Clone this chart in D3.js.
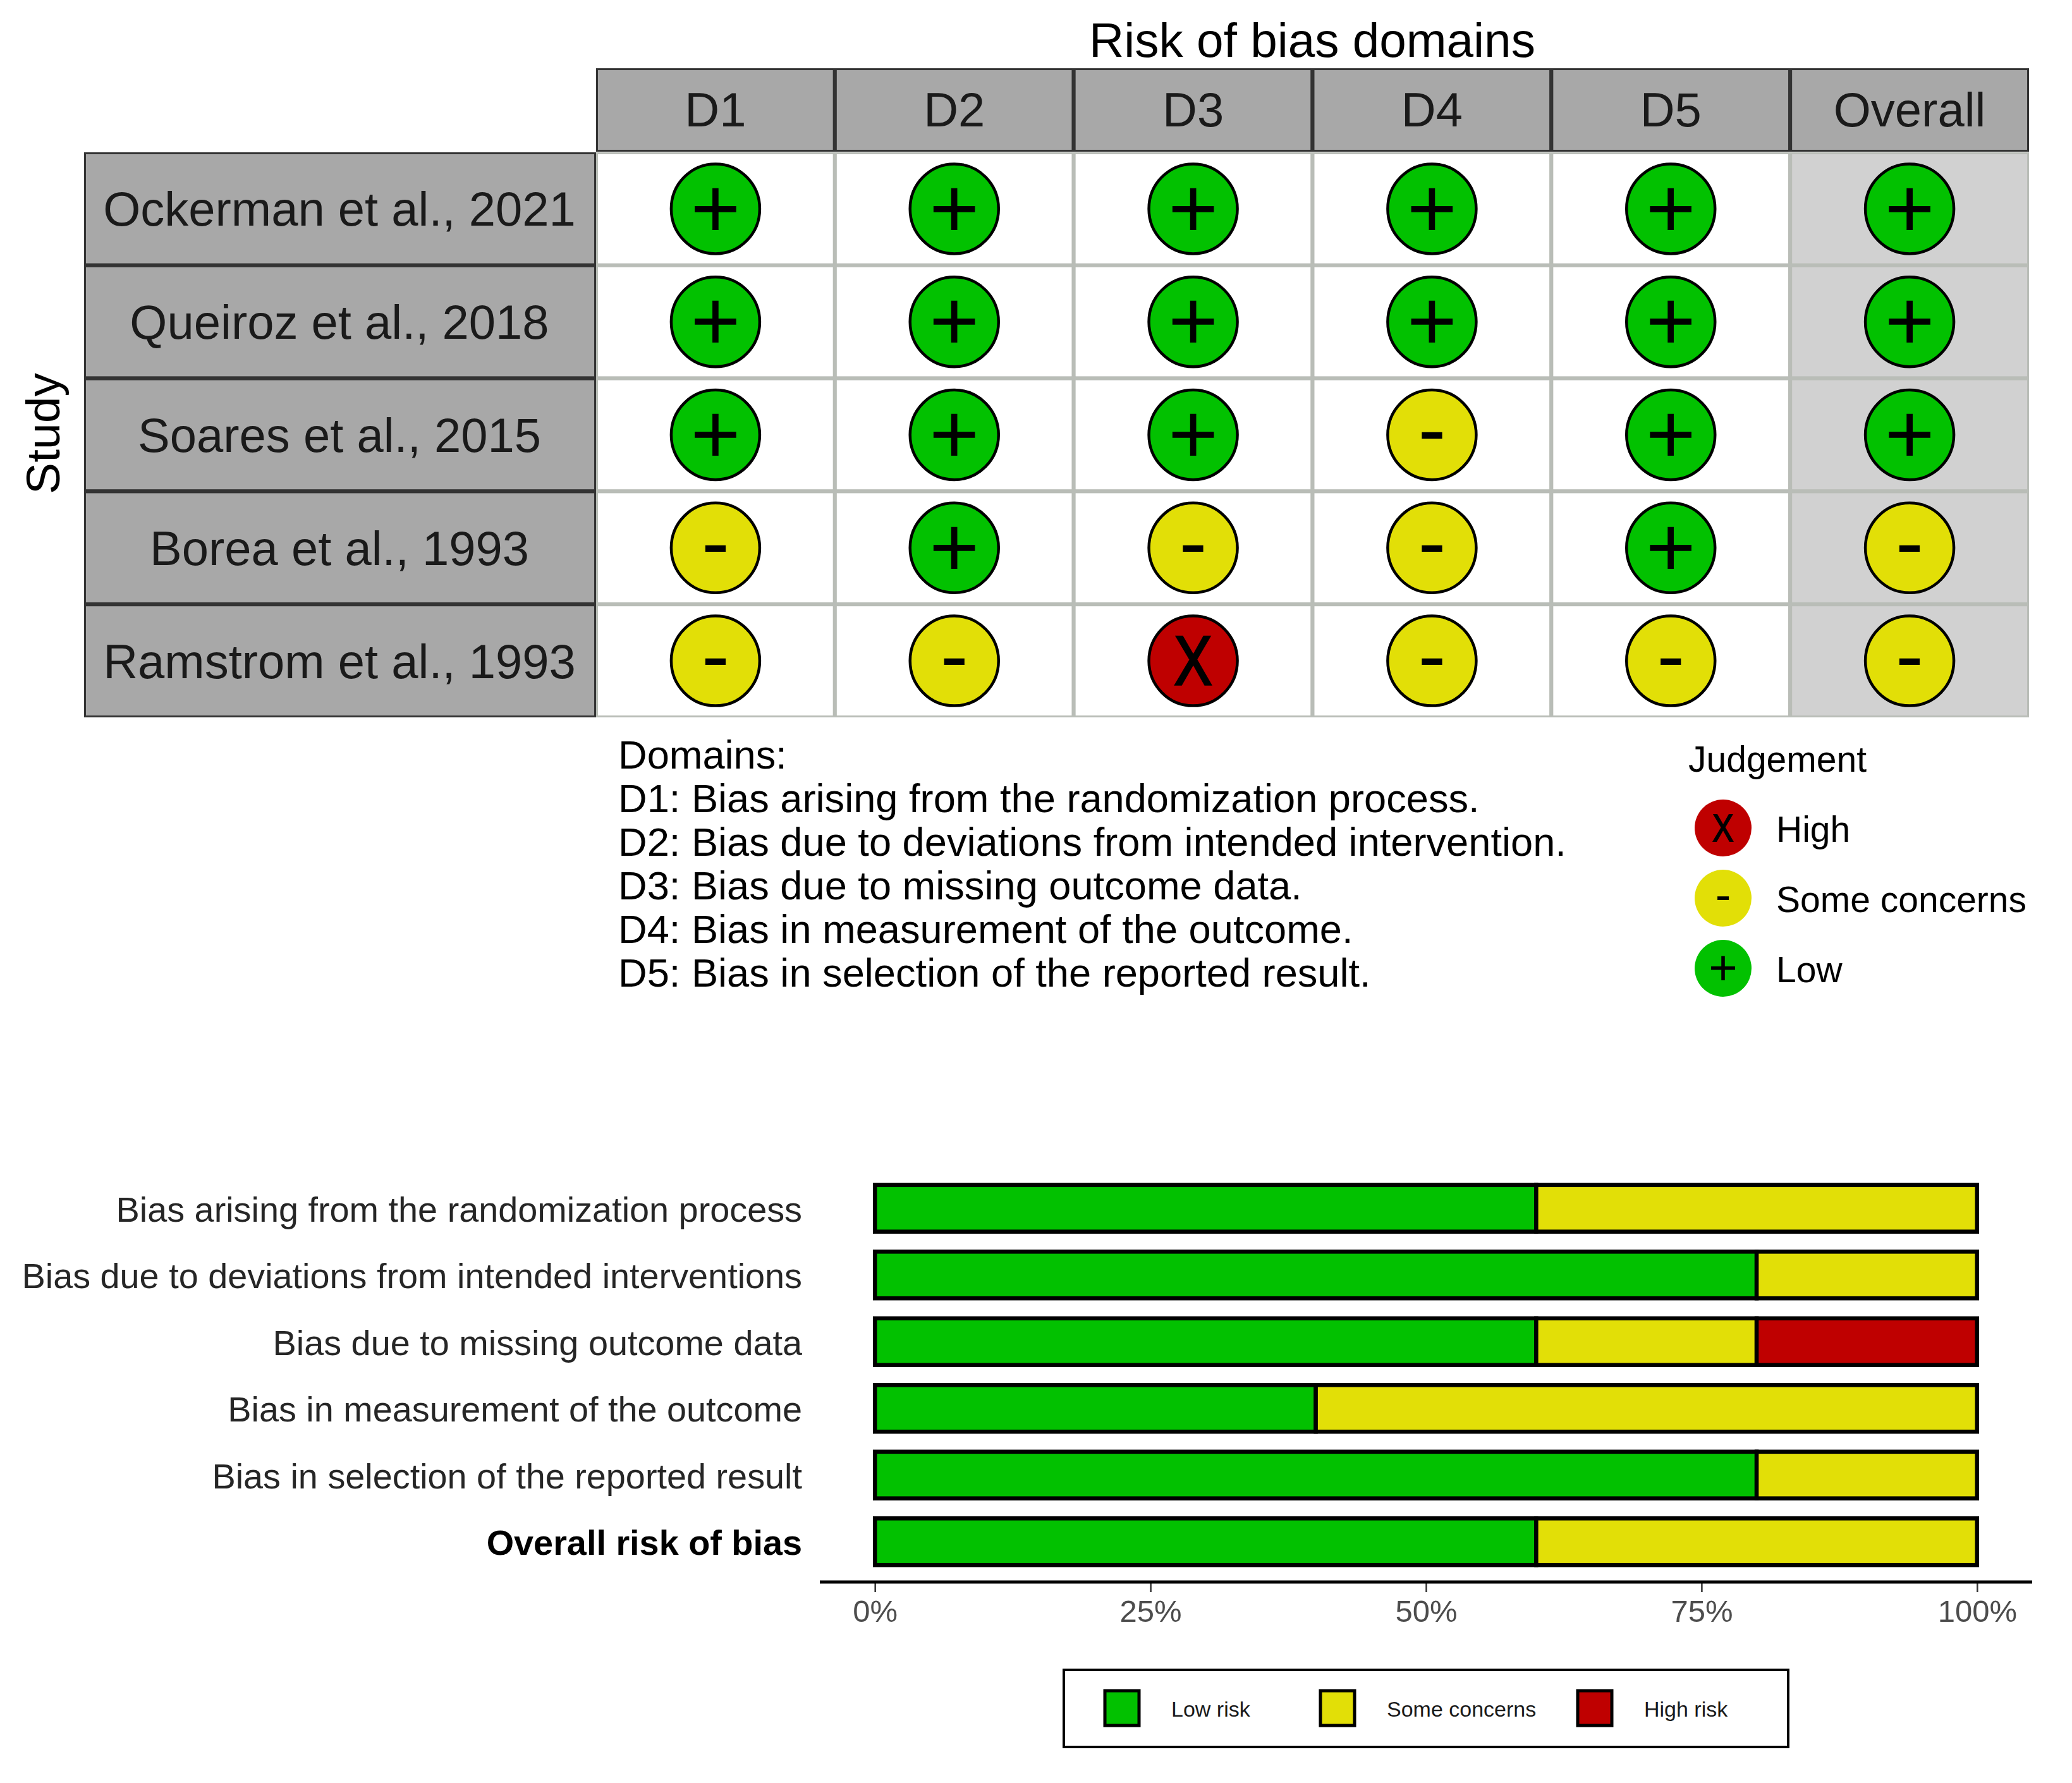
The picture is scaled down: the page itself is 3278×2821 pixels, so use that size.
<!DOCTYPE html>
<html>
<head>
<meta charset="utf-8">
<script src="https://cdn.jsdelivr.net/npm/d3@7"></script>
<style>
    html, body { margin: 0; padding: 0; background: #fff; }
    text { font-family: "Liberation Sans", Arial, sans-serif; }
</style>
</head>
<body>
<svg id="chart" width="3278" height="2821"></svg>
<script>
// Traffic light data
const studies = ['Ockerman et al., 2021', 'Queiroz et al., 2018', 'Soares et al., 2015', 'Borea et al., 1993', 'Ramstrom et al., 1993'];
const domains = ['D1', 'D2', 'D3', 'D4', 'D5', 'Overall'];
const ockerman = ['Low', 'Low', 'Low', 'Low', 'Low', 'Low'];
const queiroz = ['Low', 'Low', 'Low', 'Low', 'Low', 'Low'];
const soares = ['Low', 'Low', 'Low', 'Some', 'Low', 'Low'];
const borea = ['Some', 'Low', 'Some', 'Some', 'Low', 'Some'];
const ramstrom = ['Some', 'Some', 'High', 'Some', 'Some', 'Some'];
const judgements = [ockerman, queiroz, soares, borea, ramstrom];

const domainNotes = [
    'Domains:',
    'D1: Bias arising from the randomization process.',
    'D2: Bias due to deviations from intended intervention.',
    'D3: Bias due to missing outcome data.',
    'D4: Bias in measurement of the outcome.',
    'D5: Bias in selection of the reported result.'
];
const judgementKeys = ['High', 'Some', 'Low'];
const judgementLabels = ['High', 'Some concerns', 'Low'];

// Summary bar data (percent of studies)
const biasLabels = [
    'Bias arising from the randomization process',
    'Bias due to deviations from intended interventions',
    'Bias due to missing outcome data',
    'Bias in measurement of the outcome',
    'Bias in selection of the reported result',
    'Overall risk of bias'
];
const lowRisk = [60, 80, 60, 40, 80, 60];
const someConcerns = [40, 20, 20, 60, 20, 40];
const highRisk = [0, 0, 20, 0, 0, 0];
const percentTicks = [0, 25, 50, 75, 100];
const riskKeys = ['Low risk', 'Some concerns', 'High risk'];

const colors = {Low: '#02C100', Some: '#E2DF07', High: '#BF0000'};
const symbols = {Low: '+', Some: '-', High: 'X'};
const riskColors = d3.scaleOrdinal().domain(riskKeys).range([colors.Low, colors.Some, colors.High]);

const svg = d3.select('#chart');
const defs = svg.append('defs');

// ---- traffic light plot ----
const x = d3.scaleBand().domain(domains).range([943, 3210]);
const y = d3.scaleBand().domain(studies).range([241, 1135]);
const stripLeft = 133, headTop = 108, headBottom = 240;

defs.append('clipPath').attr('id', 'panel-clip').append('rect')
    .attr('x', 943).attr('y', 241).attr('width', 2267).attr('height', 894);
defs.append('clipPath').attr('id', 'top-clip').append('rect')
    .attr('x', 943).attr('y', headTop).attr('width', 2267).attr('height', headBottom - headTop);
defs.append('clipPath').attr('id', 'left-clip').append('rect')
    .attr('x', stripLeft).attr('y', 241).attr('width', 943 - stripLeft).attr('height', 894);

svg.append('text')
    .attr('x', 2076).attr('y', 90)
    .attr('text-anchor', 'middle').attr('font-size', 76.5).attr('fill', '#000')
    .text('Risk of bias domains');

svg.append('text')
    .attr('transform', 'translate(94,686) rotate(-90)')
    .attr('text-anchor', 'middle').attr('font-size', 75).attr('fill', '#000')
    .text('Study');

// column strips
svg.append('g').attr('clip-path', 'url(#top-clip)')
    .selectAll('rect').data(domains).enter().append('rect')
    .attr('x', d => x(d)).attr('y', headTop)
    .attr('width', x.bandwidth()).attr('height', headBottom - headTop)
    .attr('fill', '#a8a8a8').attr('stroke', '#333').attr('stroke-width', 6);
svg.append('g').selectAll('text').data(domains).enter().append('text')
    .attr('x', d => x(d) + x.bandwidth() / 2).attr('y', 200)
    .attr('text-anchor', 'middle').attr('font-size', 76).attr('fill', '#1a1a1a')
    .text(d => d);

// row strips
svg.append('g').attr('clip-path', 'url(#left-clip)')
    .selectAll('rect').data(studies).enter().append('rect')
    .attr('x', stripLeft).attr('y', d => y(d))
    .attr('width', 943 - stripLeft).attr('height', y.bandwidth())
    .attr('fill', '#a8a8a8').attr('stroke', '#333').attr('stroke-width', 6);
svg.append('g').selectAll('text').data(studies).enter().append('text')
    .attr('x', 537).attr('y', d => y(d) + y.bandwidth() / 2 + 27)
    .attr('text-anchor', 'middle').attr('font-size', 76).attr('fill', '#1a1a1a')
    .text(d => d);

// cells
const cells = [];
studies.forEach((s, i) => domains.forEach((d, j) => cells.push({study: s, domain: d, value: judgements[i][j]})));

svg.append('g').attr('clip-path', 'url(#panel-clip)')
    .selectAll('rect').data(cells).enter().append('rect')
    .attr('x', d => x(d.domain)).attr('y', d => y(d.study))
    .attr('width', x.bandwidth()).attr('height', y.bandwidth())
    .attr('fill', d => d.domain === 'Overall' ? '#d1d1d1' : '#fff')
    .attr('stroke', '#b9bdb7').attr('stroke-width', 6);

function symbolText(sel, size, cx, cy) {
    // vertical offset puts each glyph's ink in the middle of the circle
    const lift = {Low: 0.335, Some: 0.275, High: 0.345};
    sel.append('text')
        .attr('transform', d => {
            const v = d.value;
            const s = size[v];
            const squash = v === 'High' ? 0.82 : 1;
            return `translate(${cx(d)},${cy(d) + lift[v] * s}) scale(${squash},1)`;
        })
        .attr('text-anchor', 'middle')
        .attr('font-size', d => size[d.value])
        .attr('fill', '#000')
        .attr('stroke', '#000')
        .attr('stroke-width', d => d.value === 'High' ? size.High * 0.03 : 0)
        .text(d => symbols[d.value]);
}

const cellG = svg.append('g').selectAll('g').data(cells).enter().append('g');
const cellX = d => x(d.domain) + x.bandwidth() / 2;
const cellY = d => y(d.study) + y.bandwidth() / 2;
cellG.append('ellipse')
    .attr('cx', cellX).attr('cy', cellY)
    .attr('rx', 70).attr('ry', 71)
    .attr('fill', d => colors[d.value])
    .attr('stroke', '#000').attr('stroke-width', 4.5);
symbolText(cellG, {Low: 135, Some: 132, High: 109}, cellX, cellY);

// domain notes
svg.append('g').selectAll('text').data(domainNotes).enter().append('text')
    .attr('x', 978).attr('y', (d, i) => 1216 + i * 69)
    .attr('font-size', 63.2).attr('fill', '#000')
    .text(d => d);

// judgement legend
const legendY = d3.scalePoint().domain(judgementKeys).range([1310, 1532]);
svg.append('text')
    .attr('x', 2671).attr('y', 1221)
    .attr('font-size', 57).attr('fill', '#000')
    .text('Judgement');
const legendG = svg.append('g').selectAll('g')
    .data(judgementKeys.map((k, i) => ({value: k, label: judgementLabels[i]})))
    .enter().append('g');
legendG.append('ellipse')
    .attr('cx', 2726).attr('cy', d => legendY(d.value))
    .attr('rx', 45).attr('ry', 45)
    .attr('fill', d => colors[d.value]);
symbolText(legendG, {Low: 78, Some: 74, High: 61}, () => 2726, d => legendY(d.value));
legendG.append('text')
    .attr('x', 2810).attr('y', d => legendY(d.value) + 22)
    .attr('font-size', 57).attr('fill', '#000')
    .text(d => d.label);

// ---- summary bars ----
const barX = d3.scaleLinear().domain([-5, 105]).range([1297, 3215]);
const barY = d3.scaleBand().domain(biasLabels).range([1859, 2492]).paddingInner(0.3).paddingOuter(0.15);

const rows = biasLabels.map((b, i) => ({
    label: b,
    'Low risk': lowRisk[i],
    'Some concerns': someConcerns[i],
    'High risk': highRisk[i]
}));
const stacked = d3.stack().keys(riskKeys)(rows);

svg.append('g').selectAll('g').data(stacked).enter().append('g')
    .attr('fill', d => riskColors(d.key))
    .selectAll('rect').data(d => d.filter(p => p[1] > p[0])).enter().append('rect')
    .attr('x', d => barX(d[0])).attr('y', d => barY(d.data.label))
    .attr('width', d => barX(d[1]) - barX(d[0])).attr('height', barY.bandwidth())
    .attr('stroke', '#000').attr('stroke-width', 6.5);

svg.append('g').selectAll('text').data(biasLabels).enter().append('text')
    .attr('x', 1269).attr('y', d => barY(d) + barY.bandwidth() / 2 + 21)
    .attr('text-anchor', 'end').attr('font-size', 55.8)
    .attr('font-weight', d => d === 'Overall risk of bias' ? 'bold' : 'normal')
    .attr('fill', d => d === 'Overall risk of bias' ? '#000' : '#262626')
    .text(d => d);

const axis = svg.append('g')
    .attr('transform', 'translate(0,2503)')
    .call(d3.axisBottom(barX).tickValues(percentTicks).tickFormat(d => d + '%').tickSize(16).tickPadding(12));
axis.select('.domain').remove();
axis.append('line')
    .attr('x1', barX(-5)).attr('x2', barX(105))
    .attr('stroke', '#000').attr('stroke-width', 5);
axis.selectAll('.tick line').attr('stroke', '#333').attr('stroke-width', 2.5);
axis.selectAll('.tick text')
    .attr('font-size', 49).attr('fill', '#4d4d4d')
    .style('font-family', '"Liberation Sans", Arial, sans-serif');

// risk legend
svg.append('rect')
    .attr('x', 1683).attr('y', 2642).attr('width', 1146).attr('height', 122)
    .attr('fill', '#fff').attr('stroke', '#000').attr('stroke-width', 4);
const swatchX = d3.scaleOrdinal().domain(riskKeys).range([1748, 2089, 2496]);
const riskLegend = svg.append('g').selectAll('g').data(riskKeys).enter().append('g');
riskLegend.append('rect')
    .attr('x', d => swatchX(d)).attr('y', 2675)
    .attr('width', 54).attr('height', 55)
    .attr('fill', d => riskColors(d)).attr('stroke', '#000').attr('stroke-width', 5);
riskLegend.append('text')
    .attr('x', d => swatchX(d) + 105).attr('y', 2716)
    .attr('font-size', 34).attr('fill', '#1a1a1a')
    .text(d => d);
</script>
</body>
</html>
